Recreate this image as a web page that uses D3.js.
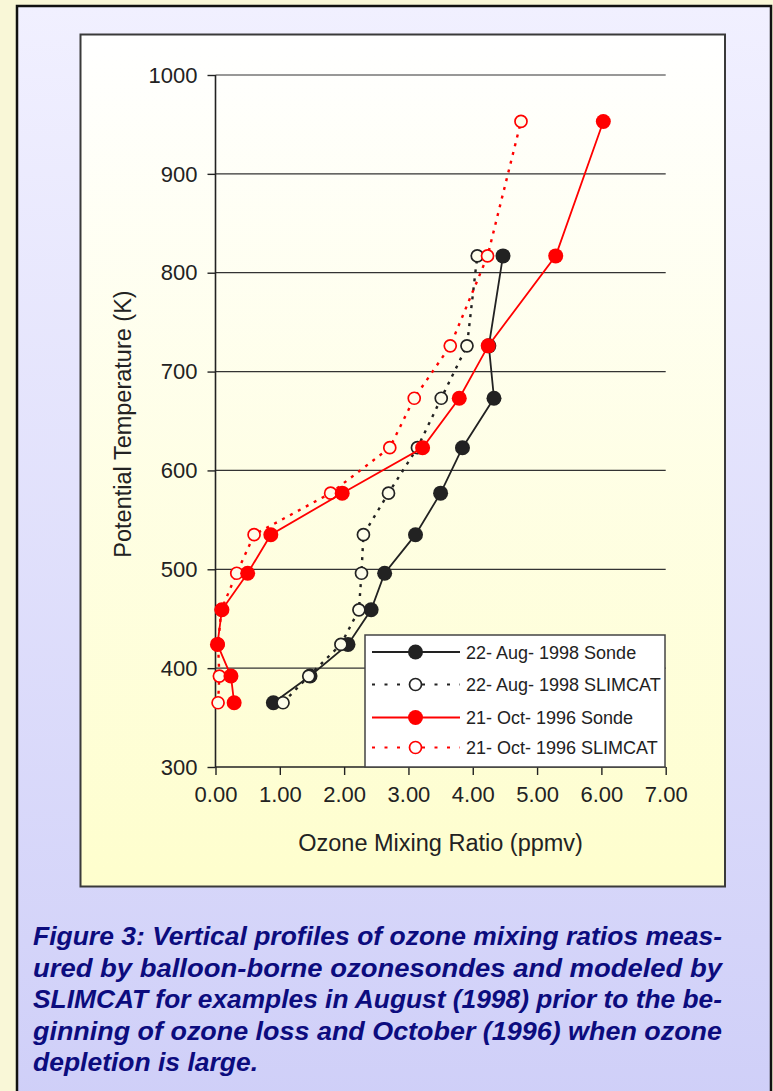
<!DOCTYPE html>
<html>
<head>
<meta charset="utf-8">
<script src="https://cdn.jsdelivr.net/npm/d3@7"></script>
<style>
  html, body { margin: 0; padding: 0; background: #f9f7d7; }
  svg { display: block; }
</style>
</head>
<body>
<svg id="chart" width="773" height="1091"></svg>
<script>
// ---- data ----
const thetaLevels = [365, 392, 424, 459, 496, 535, 577, 623, 673, 726, 817, 953];
const augSonde   = [0.90, 1.47, 2.06, 2.42, 2.63, 3.11, 3.50, 3.84, 4.33, 4.25, 4.47];
const augSlimcat = [1.05, 1.45, 1.95, 2.23, 2.27, 2.30, 2.69, 3.14, 3.51, 3.91, 4.07];
const octSonde   = [0.29, 0.24, 0.03, 0.10, 0.50, 0.86, 1.97, 3.22, 3.79, 4.24, 5.29, 6.03];
const octSlimcat = [0.04, 0.06, 0.04, 0.09, 0.33, 0.60, 1.79, 2.71, 3.09, 3.65, 4.23, 4.75];
const seriesNames = ["22- Aug- 1998 Sonde", "22- Aug- 1998 SLIMCAT", "21- Oct- 1996 Sonde", "21- Oct- 1996 SLIMCAT"];
const xTicks = [0, 1, 2, 3, 4, 5, 6, 7];
const yTicks = [300, 400, 500, 600, 700, 800, 900, 1000];
const xTitle = "Ozone Mixing Ratio (ppmv)";
const yTitle = "Potential Temperature (K)";
const captionLines = [
  "Figure 3: Vertical profiles of ozone mixing ratios meas-",
  "ured by balloon-borne ozonesondes and modeled by",
  "SLIMCAT for examples in August (1998) prior to the be-",
  "ginning of ozone loss and October (1996) when ozone",
  "depletion is large."
];

const svg = d3.select("#chart");
const defs = svg.append("defs");
const g1 = defs.append("linearGradient").attr("id", "cardGrad").attr("x1", 0).attr("y1", 0).attr("x2", 0).attr("y2", 1);
g1.append("stop").attr("offset", "0%").attr("stop-color", "#f1f0ff");
g1.append("stop").attr("offset", "100%").attr("stop-color", "#cfcff8");
const g2 = defs.append("linearGradient").attr("id", "panelGrad").attr("x1", 0).attr("y1", 0).attr("x2", 0).attr("y2", 1);
g2.append("stop").attr("offset", "0%").attr("stop-color", "#ffffff");
g2.append("stop").attr("offset", "100%").attr("stop-color", "#fefecd");

// background + card
svg.append("rect").attr("x", 0).attr("y", 0).attr("width", 773).attr("height", 1091).attr("fill", "#f9f7d7");
svg.append("rect").attr("x", 17).attr("y", 6).attr("width", 754).attr("height", 1100)
  .attr("fill", "url(#cardGrad)").attr("stroke", "#111").attr("stroke-width", 2.5);
svg.append("rect").attr("x", 80.5).attr("y", 34.5).attr("width", 644.5).attr("height", 852)
  .attr("fill", "url(#panelGrad)").attr("stroke", "#3a3a3a").attr("stroke-width", 2);

// scales
const x = d3.scaleLinear().domain([0, 7]).range([215.5, 665.7]);
const y = d3.scaleLinear().domain([300, 1000]).range([767, 75]);
const ink = "#222";

// gridlines
svg.append("g").selectAll("line").data(yTicks.filter(v => v > 300)).join("line")
  .attr("x1", x(0)).attr("x2", x(7)).attr("y1", d => y(d)).attr("y2", d => y(d))
  .attr("stroke", "#333").attr("stroke-width", 1.2);

// axes
const fontAxis = "'Liberation Sans', Arial, sans-serif";
const yAxis = svg.append("g").attr("transform", `translate(${x(0)},0)`)
  .call(d3.axisLeft(y).tickValues(yTicks).tickSize(8).tickPadding(10).tickFormat(d3.format("d")));
const xAxis = svg.append("g").attr("transform", `translate(0,${y(300)})`)
  .call(d3.axisBottom(x).tickValues(xTicks).tickSize(8).tickPadding(10).tickFormat(d3.format(".2f")));
[yAxis, xAxis].forEach(a => {
  a.select(".domain").attr("stroke", ink).attr("stroke-width", 1.6);
  a.selectAll(".tick line").attr("stroke", ink).attr("stroke-width", 1.4);
  a.selectAll(".tick text").attr("fill", ink).style("font-family", fontAxis).style("font-size", "22px");
});
xAxis.select(".domain").attr("d", `M${x(0)},0H${x(7)}`);
yAxis.select(".domain").attr("d", `M0,${y(300)}V${y(1000)}`);
yAxis.selectAll(".tick text").attr("dy", "0.33em");
xAxis.selectAll(".tick text").attr("dy", "0.77em");

svg.append("text").attr("x", (x(0) + x(7)) / 2).attr("y", 851).attr("text-anchor", "middle")
  .attr("fill", ink).style("font-family", fontAxis).style("font-size", "23.5px").text(xTitle);
svg.append("text").attr("transform", `translate(131,${(y(300) + y(1000)) / 2 + 3}) rotate(-90)`)
  .attr("text-anchor", "middle").attr("fill", ink).style("font-family", fontAxis).style("font-size", "23.5px").text(yTitle);

// series
const series = [
  { name: seriesNames[0], vals: augSonde, color: ink, dashed: false, filled: true },
  { name: seriesNames[1], vals: augSlimcat, color: ink, dashed: true, filled: false },
  { name: seriesNames[2], vals: octSonde, color: "#ff0000", dashed: false, filled: true },
  { name: seriesNames[3], vals: octSlimcat, color: "#ff0000", dashed: true, filled: false }
];
const drawOrder = [0, 1, 3, 2];
const line = d3.line().x(d => x(d[0])).y(d => y(d[1]));
drawOrder.forEach(i => {
  const s = series[i];
  const pts = s.vals.map((v, k) => [v, thetaLevels[k]]);
  const g = svg.append("g");
  g.append("path").attr("d", line(pts)).attr("fill", "none").attr("stroke", s.color)
    .attr("stroke-width", s.dashed ? 2.4 : 1.8).attr("stroke-dasharray", s.dashed ? "3,6" : null);
  g.selectAll("circle").data(pts).join("circle")
    .attr("cx", d => x(d[0])).attr("cy", d => y(d[1]))
    .attr("r", s.filled ? 7.5 : 6)
    .attr("fill", s.filled ? s.color : "#fdfdea")
    .attr("stroke", s.color).attr("stroke-width", s.filled ? 0 : 1.7);
});

// legend
const lg = svg.append("g");
lg.append("rect").attr("x", 365).attr("y", 635).attr("width", 300).attr("height", 132)
  .attr("fill", "#ffffff").attr("stroke", "#444").attr("stroke-width", 1.5);
const rowY = [652, 684.5, 717.5, 747.5];
series.forEach((s, i) => {
  const ry = rowY[i];
  lg.append("line").attr("x1", 372).attr("x2", 460).attr("y1", ry).attr("y2", ry)
    .attr("stroke", s.color).attr("stroke-width", s.dashed ? 2.2 : 1.8)
    .attr("stroke-dasharray", s.dashed ? "3,9.5" : null);
  lg.append("circle").attr("cx", 415.5).attr("cy", ry).attr("r", s.filled ? 7.5 : 6)
    .attr("fill", s.filled ? s.color : "#ffffff").attr("stroke", s.color).attr("stroke-width", s.filled ? 0 : 1.7);
  lg.append("text").attr("x", 466).attr("y", ry + 6.5).attr("fill", ink)
    .style("font-family", fontAxis).style("font-size", "18px").text(s.name);
});

// caption
const capFont = "'Liberation Sans', Arial, sans-serif";
const cap = svg.append("g");
const capX = 33, capRight = 722, capBase = 945, capStep = 31.5;
let ratio = 1;
captionLines.forEach((t, i) => {
  const txt = cap.append("text").attr("x", capX).attr("y", capBase + i * capStep)
    .attr("fill", "#0c0c7e").style("font-family", capFont).style("font-size", "25px")
    .style("font-weight", "bold").style("font-style", "italic").text(t);
  const w = txt.node().getComputedTextLength();
  if (i < captionLines.length - 1) {
    if (i === 0) ratio = (capRight - capX) / w;
    txt.attr("textLength", capRight - capX).attr("lengthAdjust", "spacingAndGlyphs");
  } else {
    txt.attr("textLength", w * ratio).attr("lengthAdjust", "spacingAndGlyphs");
  }
});
</script>
</body>
</html>
